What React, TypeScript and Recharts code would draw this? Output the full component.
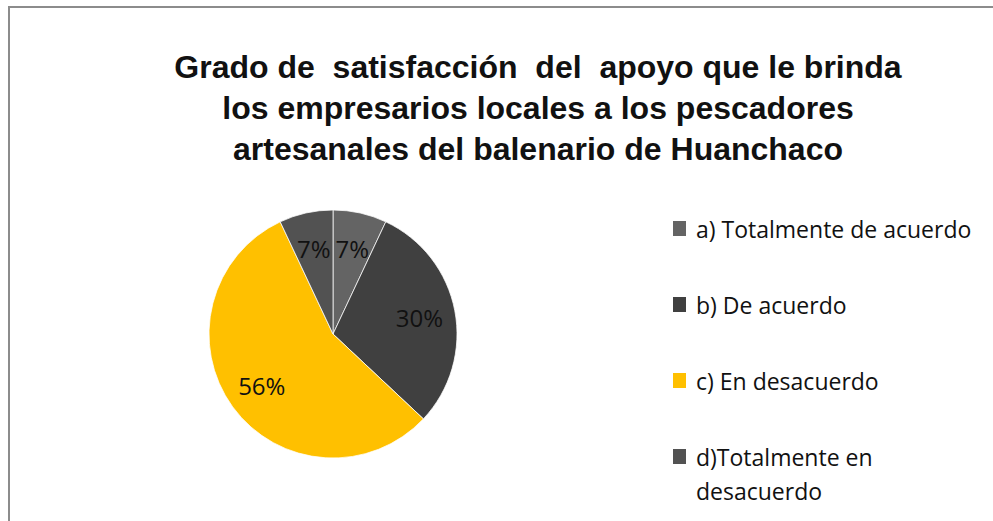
import { PieChart, Pie, Cell, Legend } from 'recharts';

const TITLE_LINES = [
  'Grado de  satisfacción  del  apoyo que le brinda',
  'los empresarios locales a los pescadores',
  'artesanales del balenario de Huanchaco',
];

const CATEGORIES = [
  'a) Totalmente de acuerdo',
  'b) De acuerdo',
  'c) En desacuerdo',
  'd)Totalmente en desacuerdo',
];
const PERCENTS = [7, 30, 56, 7];
const COLORS = ['#646464', '#404040', '#FFC000', '#525252'];

const data = CATEGORIES.map((name, i) => ({ name, value: PERCENTS[i] }));

const RADIAN = Math.PI / 180;

const renderLabel = (props: any) => {
  const { cx, cy, midAngle, outerRadius, value } = props;
  const r = outerRadius * 0.71;
  const x = cx + r * Math.cos(-midAngle * RADIAN);
  const y = cy + r * Math.sin(-midAngle * RADIAN);
  return (
    <text x={x} y={y} fill="#111" textAnchor="middle" dominantBaseline="central" fontSize={24} fontFamily="'Open Sans', sans-serif">
      {`${value}%`}
    </text>
  );
};

const renderLegend = () => (
  <div style={{ fontFamily: "'Open Sans', sans-serif", fontSize: 23, color: '#111' }}>
    {data.map((d, i) => (
      <div key={d.name} style={{ display: 'flex', alignItems: 'flex-start', height: 76 }}>
        <span style={{ display: 'inline-block', width: 13, height: 15, background: COLORS[i], marginTop: 9, marginRight: 10, flexShrink: 0 }} />
        <span style={{ lineHeight: '34px', width: 285 }}>{d.name}</span>
      </div>
    ))}
  </div>
);

export default function App() {
  return (
    <div style={{ position: 'absolute', left: 0, top: 0, width: 993, height: 521, background: '#fff', overflow: 'hidden' }}>
      <div style={{ position: 'absolute', left: 8, top: 6, width: 1100, height: 600, border: '2px solid #8c8c8c', boxSizing: 'border-box' }} />
      <div style={{ position: 'absolute', left: 0, top: 47, width: 1076, textAlign: 'center', fontFamily: "'Liberation Sans', Arial, sans-serif", fontWeight: 'bold', fontSize: 32, lineHeight: '41px', color: '#111', whiteSpace: 'pre' }}>
        {TITLE_LINES.map(t => (
          <div key={t}>{t}</div>
        ))}
      </div>
      <div style={{ position: 'absolute', left: 0, top: 0 }}>
        <PieChart width={993} height={521} margin={{ top: 0, right: 0, bottom: 0, left: 0 }}>
          <Pie
            data={data}
            dataKey="value"
            nameKey="name"
            cx={333}
            cy={334}
            outerRadius={124}
            startAngle={90}
            endAngle={-270}
            stroke="#ffffff"
            strokeWidth={0.75}
            label={renderLabel}
            labelLine={false}
            isAnimationActive={false}
          >
            {data.map((d, i) => (
              <Cell key={d.name} fill={COLORS[i]} />
            ))}
          </Pie>
          <Legend
            content={renderLegend}
            layout="vertical"
            wrapperStyle={{ position: 'absolute', left: 673, top: 212, width: 320 }}
          />
        </PieChart>
      </div>
    </div>
  );
}
